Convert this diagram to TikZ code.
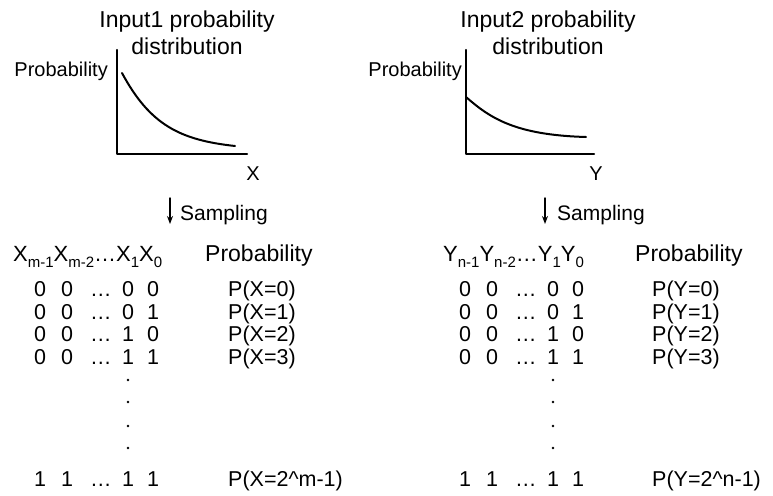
\documentclass[tikz,border=0pt]{standalone}
\usepackage{fontspec}
\setmainfont{Liberation Sans}
\usetikzlibrary{arrows.meta}
\newcommand\subs[1]{\raisebox{-0.3em}{\fontsize{15}{15}\selectfont #1}}
\newcommand\bits[4]{\makebox[27pt][l]{#1}\makebox[29pt][l]{#2}\makebox[32pt][l]{…}\makebox[25pt][l]{#3}#4}
\begin{document}
\begin{tikzpicture}[x=1pt,y=-1pt,>={Stealth[length=8pt,width=6pt]},line join=round,line cap=round,
	axis/.style={line width=2.2pt},
	curve/.style={line width=2pt},
	title/.style={align=center,inner sep=0,anchor=north,font=\fontsize{23}{27}\selectfont},
	lbl/.style={inner sep=0,font=\fontsize{20}{24}\selectfont},
	txt/.style={inner sep=0,anchor=base west,font=\fontsize{21}{25}\selectfont},
	head/.style={inner sep=0,anchor=base west,font=\fontsize{23}{27}\selectfont},
	row/.style={inner sep=0,anchor=base west,font=\fontsize{21.5}{23}\selectfont}]
	\useasboundingbox (0,0) rectangle (773,495);
	\path
	(117,50) coordinate (Xtop)
	(117,154) coordinate (XO)
	(247,154) coordinate (Xend)
	(466,50) coordinate (Ytop)
	(466,154) coordinate (YO)
	(594,154) coordinate (Yend)
	(170,198) coordinate (Xs1)
	(170,224) coordinate (Xs2)
	(545,198) coordinate (Ys1)
	(545,224) coordinate (Ys2);
	\node[title] (tX) at (187,11) {Input1 probability\\distribution};
	\node[title] (tY) at (548,11) {Input2 probability\\distribution};
	\draw[axis] (Xtop) -- (XO) -- (Xend);
	\draw[axis] (Ytop) -- (YO) -- (Yend);
	\draw[curve] (122,73) .. controls (150,125) and (180,140) .. (235,146);
	\draw[curve] (466,97) .. controls (490,118) and (515,135) .. (586,137);
	\node[lbl,anchor=base east] (pX) at (108,77) {Probability};
	\node[lbl,anchor=base east] (pY) at (462,77) {Probability};
	\node[lbl,anchor=base] (aX) at (253,180) {X};
	\node[lbl,anchor=base] (aY) at (596,180) {Y};
	\draw[->,line width=1.4pt] (Xs1) -- (Xs2);
	\draw[->,line width=1.4pt] (Ys1) -- (Ys2);
	\node[txt] (sX) at (180,220) {Sampling};
	\node[txt] (sY) at (557,220) {Sampling};
	\node[head,font=\fontsize{22}{26}\selectfont] (hX) at (13,261) {X\subs{m-1}X\subs{m-2}…X\subs{1}X\subs{0}};
	\node[head] (hPX) at (205,261) {Probability};
	\node[head,font=\fontsize{22}{26}\selectfont] (hY) at (443,261) {Y\subs{n-1}Y\subs{n-2}…Y\subs{1}Y\subs{0}};
	\node[head] (hPY) at (635,261) {Probability};
	\foreach \r/\yb/\a/\b/\c/\d/\v in {
		1/296/0/0/0/0/0,
		2/319/0/0/0/1/1,
		3/341/0/0/1/0/2,
		4/364/0/0/1/1/3,
		5/486/1/1/1/1/{2\textasciicircum m-1}}{
		\node[row] (rx\r) at (34,\yb) {\bits{\a}{\b}{\c}{\d}};
		\node[row] (px\r) at (228,\yb) {P(X=\v)};
	}
	\foreach \r/\yb/\a/\b/\c/\d/\v in {
		1/296/0/0/0/0/0,
		2/319/0/0/0/1/1,
		3/341/0/0/1/0/2,
		4/364/0/0/1/1/3,
		5/486/1/1/1/1/{2\textasciicircum n-1}}{
		\node[row] (ry\r) at (459,\yb) {\bits{\a}{\b}{\c}{\d}};
		\node[row] (py\r) at (652,\yb) {P(Y=\v)};
	}
	\foreach \yd in {380,402,426,448}{
		\fill (128,\yd) circle (1.4pt);
		\fill (553,\yd) circle (1.4pt);
	}
\end{tikzpicture}
\end{document}
